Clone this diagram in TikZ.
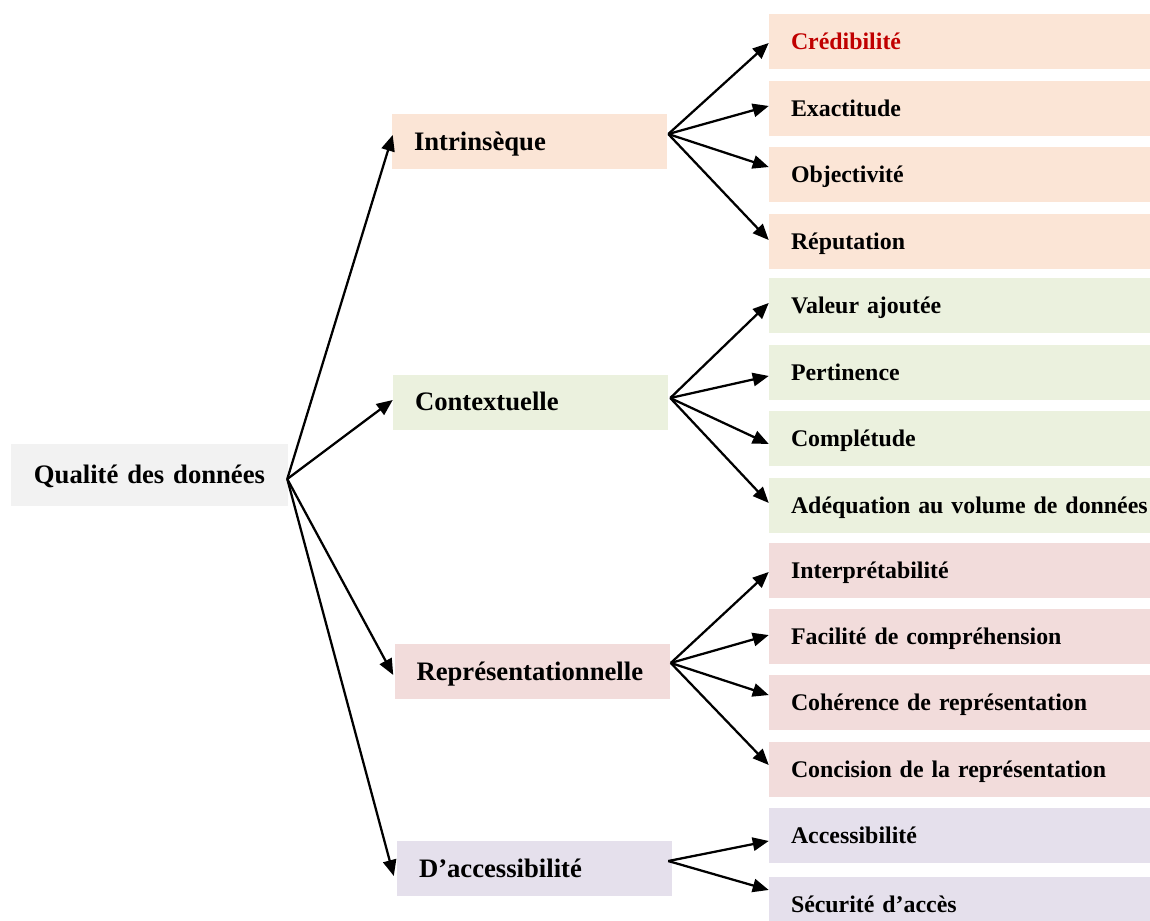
\documentclass[tikz,border=0pt]{standalone}
\usepackage{fontspec}
\setmainfont{Liberation Serif}
\usetikzlibrary{arrows.meta}
\definecolor{cpeach}{HTML}{FBE5D6}
\definecolor{cgreen}{HTML}{EBF1DE}
\definecolor{cpink}{HTML}{F2DCDB}
\definecolor{clav}{HTML}{E5E0EC}
\definecolor{cgray}{HTML}{F2F2F2}
\definecolor{cred}{HTML}{C00000}
\begin{document}
\begin{tikzpicture}[x=0.75pt,y=-0.75pt,
  basebox/.style={rectangle, inner sep=0pt, text depth=0pt},
  rootbox/.style={basebox, fill=cgray, minimum width=207.75pt, minimum height=46.5pt,
    text height=13.2pt, text width=207.75pt, align=center, font=\fontsize{20}{24}\selectfont\bfseries},
  lone/.style={basebox, minimum width=206.25pt, minimum height=41.25pt, text height=13.2pt,
    text width=206.25pt, align=left, font=\fontsize{20}{24}\selectfont\bfseries,
    execute at begin node={\hspace*{16.5pt}}},
  ltwo/.style={basebox, minimum width=285.75pt, minimum height=41.25pt, text height=11.9pt,
    text width=285.75pt, align=left, font=\fontsize{17.9}{22}\selectfont\bfseries,
    execute at begin node={\hspace*{16.5pt}}},
  arr/.style={-{Triangle[length=12pt,width=10pt]}, line width=1.7pt, black}]
\useasboundingbox (0,0) rectangle (1150,921);
\begin{scope}
\clip (0,0) rectangle (1150,921);
% root
\node[rootbox] (q) at (149.5,475) {Qualité des données};
% level 1
\node[lone, fill=cpeach] (intr) at (529.5,141.5) {Intrinsèque};
\node[lone, fill=cgreen] (cont) at (530.5,402) {Contextuelle};
\node[lone, fill=cpink] (repr) at (532,671.5) {Représentationnelle};
\node[lone, fill=clav] (dacc) at (534.5,868.5) {D’accessibilité};
% level 2
\node[ltwo, fill=cpeach] (cred) at (959.5,41.5) {\textcolor{cred}{Crédibilité}};
\node[ltwo, fill=cpeach] (exac) at (959.5,108.5) {Exactitude};
\node[ltwo, fill=cpeach] (obje) at (959.5,174.5) {Objectivité};
\node[ltwo, fill=cpeach] (repu) at (959.5,241.5) {Réputation};
\node[ltwo, fill=cgreen] (vale) at (959.5,305.5) {Valeur ajoutée};
\node[ltwo, fill=cgreen] (pert) at (959.5,372.5) {Pertinence};
\node[ltwo, fill=cgreen] (comp) at (959.5,438.5) {Complétude};
\node[ltwo, fill=cgreen] (adeq) at (959.5,505.5) {Adéquation au volume de données};
\node[ltwo, fill=cpink] (inte) at (959.5,570.5) {Interprétabilité};
\node[ltwo, fill=cpink] (faci) at (959.5,636.5) {Facilité de compréhension};
\node[ltwo, fill=cpink] (cohe) at (959.5,702.5) {Cohérence de représentation};
\node[ltwo, fill=cpink] (conc) at (959.5,769.5) {Concision de la représentation};
\node[ltwo, fill=clav] (acce) at (959.5,835.5) {Accessibilité};
\node[ltwo, fill=clav] (secu) at (959.5,904.5) {Sécurité d’accès};
\end{scope}
% fan origins
\coordinate (o0) at ([xshift=-0.75pt,yshift=-3pt]q.east);
\coordinate (fI) at ([xshift=0.75pt,yshift=5.6pt]intr.east);
\coordinate (fC) at ([xshift=1.5pt,yshift=3pt]cont.east);
\coordinate (fR) at ([xshift=0.75pt,yshift=6.4pt]repr.east);
\coordinate (fD) at ([xshift=-3pt,yshift=5.6pt]dacc.east);
% root arrows
\draw[arr] (o0) -- ([xshift=0.75pt,yshift=4.9pt]intr.west);
\draw[arr] (o0) -- ([yshift=1.5pt]cont.west);
\draw[arr] (o0) -- ([xshift=-0.75pt,yshift=-2.6pt]repr.west);
\draw[arr] (o0) -- ([xshift=-2.2pt,yshift=-5.6pt]dacc.west);
% intrinseque
\draw[arr] (fI) -- ([yshift=-1.1pt]cred.west);
\draw[arr] (fI) -- ([yshift=1.9pt]exac.west);
\draw[arr] (fI) -- ([yshift=5.6pt]obje.west);
\draw[arr] (fI) -- ([yshift=1.1pt]repu.west);
% contextuelle
\draw[arr] (fC) -- ([yshift=1.9pt]vale.west);
\draw[arr] (fC) -- ([yshift=-2.6pt]pert.west);
\draw[arr] (fC) -- ([yshift=-4.1pt]comp.west);
\draw[arr] (fC) -- ([yshift=1.9pt]adeq.west);
% representationnelle
\draw[arr] (fR) -- ([yshift=-1.1pt]inte.west);
\draw[arr] (fR) -- ([yshift=1.1pt]faci.west);
\draw[arr] (fR) -- ([yshift=5.6pt]cohe.west);
\draw[arr] (fR) -- ([yshift=3.4pt]conc.west);
% accessibilite
\draw[arr] (fD) -- ([yshift=-4.1pt]acce.west);
\draw[arr] (fD) -- ([yshift=10.9pt]secu.west);
\end{tikzpicture}
\end{document}
